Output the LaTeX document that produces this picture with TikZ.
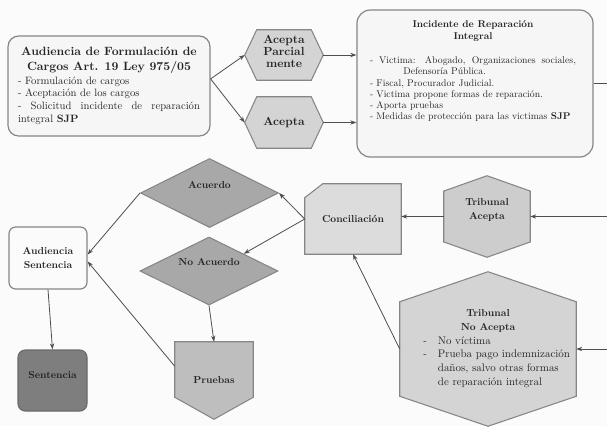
\documentclass[tikz,border=0pt]{standalone}
\usepackage{fontspec}
\setmainfont{lmroman10}[Extension=.otf, UprightFont=*-regular, BoldFont=*-bold, ItalicFont=*-italic]
\usetikzlibrary{shapes.geometric,arrows.meta,backgrounds}

\definecolor{ink}{HTML}{262626}
\definecolor{wire}{HTML}{4E4E4E}
\definecolor{rim}{HTML}{868686}
\definecolor{paper}{HTML}{FBFBFB}
\definecolor{boxfill}{HTML}{F6F6F6}
\definecolor{hexfill}{HTML}{D4D4D4}
\definecolor{diafill}{HTML}{A8A8A8}
\definecolor{prufill}{HTML}{BEBEBE}
\definecolor{senfill}{HTML}{7E7E7E}
\definecolor{concfill}{HTML}{DCDCDC}
\definecolor{tribfill}{HTML}{CDCDCD}

% hexagon pointed left/right, from a node's rectangle
\newcommand\hexlr[2]{(#1.west) -- ([xshift=#2]#1.north west) -- ([xshift=-#2]#1.north east) -- (#1.east) -- ([xshift=-#2]#1.south east) -- ([xshift=#2]#1.south west) -- cycle}
% hexagon pointed up/down
\newcommand\hextb[2]{(#1.north) -- ([yshift=-#2]#1.north east) -- ([yshift=#2]#1.south east) -- (#1.south) -- ([yshift=#2]#1.south west) -- ([yshift=-#2]#1.north west) -- cycle}

\tikzset{
  every node/.style={text=ink, inner sep=0pt},
  extent/.style n args={2}{rectangle, minimum width=#1*0.75pt, minimum height=#2*0.75pt},
  rbox/.style={rectangle, draw=rim, fill=boxfill, line width=0.9pt},
  shp/.style={draw=rim, line width=0.8pt},
  lbl/.style={font=\bfseries\fontsize{7.6}{10.5}\selectfont, align=center},
  hexlbl/.style={font=\bfseries\fontsize{8.8}{8.8}\selectfont, align=center},
  conn/.style={draw=wire, line width=0.6pt, -{Stealth[length=4.5pt,width=3.2pt]}},
  plain/.style={draw=wire, line width=0.6pt},
}

\begin{document}
\begin{tikzpicture}[x=0.75pt,y=-0.75pt]
\useasboundingbox (0,0) rectangle (607,426);

% ---- upper row ----
\node[rbox, extent={202}{100}, rounded corners=8pt, text width=182*0.75pt, align=justify] (aud) at (109,86)
  {{\centering\bfseries\fontsize{9}{10.8}\selectfont Audiencia de Formulación de\\Cargos Art. 19 Ley 975/05\par}
   \vspace{1pt}\fontsize{8}{9.5}\selectfont
   - Formulación de cargos\\
   - Aceptación de los cargos\\
   - Solicitud incidente de reparación\linebreak integral \textbf{SJP}\par};

\node[extent={78}{50}] (acp) at (284,55) {};
\node[hexlbl] (acp-t) at (284,51.5) {Acepta\\Parcial\\mente};
\node[extent={78}{51}, hexlbl] (ac) at (284,122.5) {Acepta};

\node[rbox, extent={236}{147}, rounded corners=10pt] (inc) at (475,83.5) {};
\node[text width=206*0.75pt, align=justify, anchor=north] (inc-t) at (473,20)
  {{\centering\bfseries\fontsize{7.4}{9}\selectfont Incidente de Reparación\\Integral\par}
   \vspace{10pt}\fontsize{7.3}{8.4}\selectfont
   - Victima: Abogado, Organizaciones sociales,\linebreak
   \hspace*{25pt}Defensoría Pública.\\
   - Fiscal, Procurador Judicial.\\
   - Victima propone formas de reparación.\\
   - Aporta pruebas\\
   - Medidas de protección para las victimas \textbf{SJP}\par};

\coordinate (e1) at (607,83.5);
\coordinate (e2) at (607,216.5);
\coordinate (e3) at (607,349);

% ---- lower right ----
\node[extent={86}{81}] (ta) at (487,216.5) {};
\node[lbl] (ta-t) at (487,210) {Tribunal\\Acepta};

\node[extent={176}{154}] (na) at (488,349) {};
\node[lbl] (na-t) at (488,321) {Tribunal\\No Acepta};
\node[font=\fontsize{8.2}{10.2}\selectfont, align=left, anchor=west] (na-l) at (423,362)
  {\makebox[11pt][l]{-}No víctima\\
   \makebox[11pt][l]{-}Prueba pago indemnización\\
   \hspace*{11pt}daños, salvo otras formas\\
   \hspace*{11pt}de reparación integral};

\node[extent={96}{70}, lbl] (conc) at (353,219) {Conciliación};

% ---- lower left ----
\node[diamond, shp, fill=diafill, minimum width=138*0.75pt, minimum height=69*0.75pt] (acu) at (209.5,193) {};
\node[lbl] (acu-t) at (209.5,185) {Acuerdo};
\node[diamond, shp, fill=diafill, minimum width=138*0.75pt, minimum height=68*0.75pt] (noac) at (209,271) {};
\node[lbl] (noac-t) at (209,262) {No Acuerdo};

\node[extent={78}{77}, lbl] (pru) at (214,380.5) {Pruebas};

\node[rbox, extent={78}{62}, rounded corners=5pt, fill=paper, lbl] (aus) at (48,258) {Audiencia\\Sentencia};
\node[rectangle, draw=rim!80!black, fill=senfill, line width=0.9pt, rounded corners=5.5pt, extent={69}{61}] (sen) at (52.5,380.5) {};
\node[lbl, text=ink!90!black] (sen-t) at (52.5,375) {Sentencia};

% ---- outlines of the drawn shapes ----
\begin{scope}[on background layer]
  \fill[paper] (0,0) rectangle (607,426);
  \filldraw[shp, fill=hexfill] \hexlr{acp}{9pt};
  \filldraw[shp, fill=hexfill] \hexlr{ac}{9pt};
  \filldraw[shp, fill=tribfill] \hextb{ta}{11.5pt};
  \filldraw[shp, fill=hexfill] \hextb{na}{22.5pt};
  \filldraw[shp, fill=concfill] ([xshift=13.5pt]conc.north west) -- (conc.north east) -- (conc.south east) -- (conc.south west) -- ([yshift=-10.5pt]conc.north west) -- cycle;
  \filldraw[shp, fill=prufill] (pru.north west) -- (pru.north east) -- ([yshift=16.5pt]pru.south east) -- (pru.south) -- ([yshift=16.5pt]pru.south west) -- cycle;
\end{scope}

% ---- connectors ----
\draw[conn] (aud.4) -- (acp.west);
\draw[conn] (aud.4) -- (ac.west);
\draw[conn] (acp.east) -- (acp.east -| inc.west);
\draw[conn] (ac.east) -- (ac.east -| inc.west);
\draw[plain] (inc.east) -- (e1);
\draw[conn] (e2) -- (ta.east);
\draw[conn] (e3) -- (na.east);
\draw[conn] (ta.west) -- (ta.west -| conc.east);
\draw[conn] (na.west) -- (conc.south);
\draw[conn] (conc.west) -- (acu.east);
\draw[conn] (conc.west) -- (noac.north east);
\draw[conn] (acu.west) -- (aus.5);
\draw[conn] (pru.160) -- (aus.-5);
\draw[conn] (noac.south) -- (pru.north);
\draw[conn] (aus.south) -- (sen.north);
\end{tikzpicture}
\end{document}
